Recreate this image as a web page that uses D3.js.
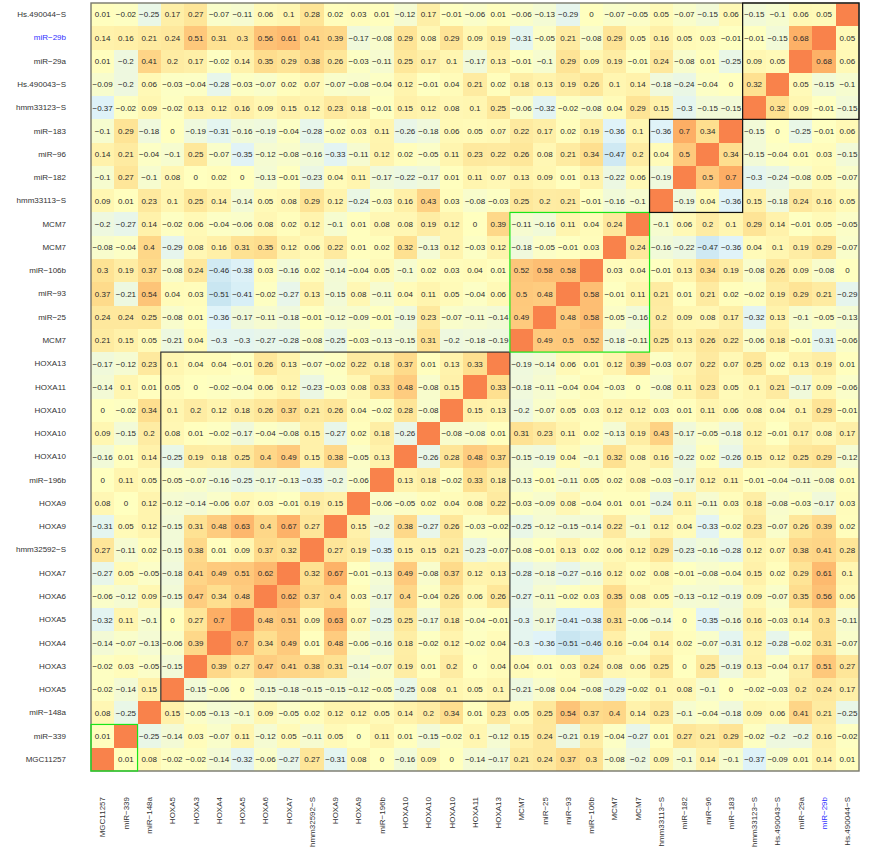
<!DOCTYPE html>
<html>
<head>
<meta charset="utf-8">
<script src="https://cdn.jsdelivr.net/npm/d3@7"></script>
<style>
  body { margin: 0; background: #fff; }
  text { font-family: "Liberation Sans", Arial, sans-serif; }
</style>
</head>
<body>
<div id="vis-heatmap"></div>
<script>
(function(){
        // Row labels, top to bottom. Columns run the same list in reverse.
        const rowLabels = ["Hs.490044-S", "miR-29b", "miR-29a", "Hs.490043-S", "hmm33123-S", "miR-183", "miR-96", "miR-182",
            "hmm33113-S", "MCM7", "MCM7", "miR-106b", "miR-93", "miR-25", "MCM7", "HOXA13", "HOXA11", "HOXA10", "HOXA10",
            "HOXA10", "miR-196b", "HOXA9", "HOXA9", "hmm32592-S", "HOXA7", "HOXA6", "HOXA5", "HOXA4", "HOXA3", "HOXA5",
            "miR-148a", "miR-339", "MGC11257"];

        // The matrix is symmetric, so each row only holds the cells left of the diagonal
        const corrRows = [
            [0.01,-0.02,-0.25,0.17,0.27,-0.07,-0.11,0.06,0.1,0.28,0.02,0.03,0.01,-0.12,0.17,-0.01,-0.06,0.01,-0.06,-0.13,-0.29,0,-0.07,-0.05,0.05,-0.07,-0.15,0.06,-0.15,-0.1,0.06,0.05],
            [0.14,0.16,0.21,0.24,0.51,0.31,0.3,0.56,0.61,0.41,0.39,-0.17,-0.08,0.29,0.08,0.29,0.09,0.19,-0.31,-0.05,0.21,-0.08,0.29,0.05,0.16,0.05,0.03,-0.01,-0.01,-0.15,0.68],
            [0.01,-0.2,0.41,0.2,0.17,-0.02,0.14,0.35,0.29,0.38,0.26,-0.03,-0.11,0.25,0.17,0.1,-0.17,0.13,-0.01,-0.1,0.29,0.09,0.19,-0.01,0.24,-0.08,0.01,-0.25,0.09,0.05],
            [-0.09,-0.2,0.06,-0.03,-0.04,-0.28,-0.03,-0.07,0.02,0.07,-0.07,-0.08,-0.04,0.12,-0.01,0.04,0.21,0.02,0.18,0.13,0.19,0.26,0.1,0.14,-0.18,-0.24,-0.04,0,0.32],
            [-0.37,-0.02,0.09,-0.02,0.13,0.12,0.16,0.09,0.15,0.12,0.23,0.18,-0.01,0.15,0.12,0.08,0.1,0.25,-0.06,-0.32,-0.02,-0.08,0.04,0.29,0.15,-0.3,-0.15,-0.15],
            [-0.1,0.29,-0.18,0,-0.19,-0.31,-0.16,-0.19,-0.04,-0.28,-0.02,0.03,0.11,-0.26,-0.18,0.06,0.05,0.07,0.22,0.17,0.02,0.19,-0.36,0.1,-0.36,0.7,0.34],
            [0.14,0.21,-0.04,-0.1,0.25,-0.07,-0.35,-0.12,-0.08,-0.16,-0.33,-0.11,0.12,0.02,-0.05,0.11,0.23,0.22,0.26,0.08,0.21,0.34,-0.47,0.2,0.04,0.5],
            [-0.1,0.27,-0.1,0.08,0,0.02,0,-0.13,-0.01,-0.23,0.04,0.11,-0.17,-0.22,-0.17,0.01,0.11,0.07,0.13,0.09,0.01,0.13,-0.22,0.06,-0.19],
            [0.09,0.01,0.23,0.1,0.25,0.14,-0.14,0.05,0.08,0.29,0.12,-0.24,-0.03,0.16,0.43,0.03,-0.08,-0.03,0.25,0.2,0.21,-0.01,-0.16,-0.1],
            [-0.2,-0.27,0.14,-0.02,0.06,-0.04,-0.06,0.08,0.02,0.12,-0.1,0.01,0.08,0.08,0.19,0.12,0,0.39,-0.11,-0.16,0.11,0.04,0.24],
            [-0.08,-0.04,0.4,-0.29,0.08,0.16,0.31,0.35,0.12,0.06,0.22,0.01,0.02,0.32,-0.13,0.12,-0.03,0.12,-0.18,-0.05,-0.01,0.03],
            [0.3,0.19,0.37,-0.08,0.24,-0.46,-0.38,0.03,-0.16,0.02,-0.14,-0.04,0.05,-0.1,0.02,0.03,0.04,0.01,0.52,0.58,0.58],
            [0.37,-0.21,0.54,0.04,0.03,-0.51,-0.41,-0.02,-0.27,0.13,-0.15,0.08,-0.11,0.04,0.11,0.05,-0.04,0.06,0.5,0.48],
            [0.24,0.24,0.25,-0.08,0.01,-0.36,-0.17,-0.11,-0.18,-0.01,-0.12,-0.09,-0.01,-0.19,0.23,-0.07,-0.11,-0.14,0.49],
            [0.21,0.15,0.05,-0.21,0.04,-0.3,-0.3,-0.27,-0.28,-0.08,-0.25,-0.03,-0.13,-0.15,0.31,-0.2,-0.18,-0.19],
            [-0.17,-0.12,0.23,0.1,0.04,0.04,-0.01,0.26,0.13,-0.07,-0.02,0.22,0.18,0.37,0.01,0.13,0.33],
            [-0.14,0.1,0.01,0.05,0,-0.02,-0.04,0.06,0.12,-0.23,-0.03,0.08,0.33,0.48,-0.08,0.15],
            [0,-0.02,0.34,0.1,0.2,0.12,0.18,0.26,0.37,0.21,0.26,0.04,-0.02,0.28,-0.08],
            [0.09,-0.15,0.2,0.08,0.01,-0.02,-0.17,-0.04,-0.08,0.15,-0.27,0.02,0.18,-0.26],
            [-0.16,0.01,0.14,-0.25,0.19,0.18,0.25,0.4,0.49,0.15,0.38,-0.05,0.13],
            [0,0.11,0.05,-0.05,-0.07,-0.16,-0.25,-0.17,-0.13,-0.35,-0.2,-0.06],
            [0.08,0,0.12,-0.12,-0.14,-0.06,0.07,0.03,-0.01,0.19,0.15],
            [-0.31,0.05,0.12,-0.15,0.31,0.48,0.63,0.4,0.67,0.27],
            [0.27,-0.11,0.02,-0.15,0.38,0.01,0.09,0.37,0.32],
            [-0.27,0.05,-0.05,-0.18,0.41,0.49,0.51,0.62],
            [-0.06,-0.12,0.09,-0.15,0.47,0.34,0.48],
            [-0.32,0.11,-0.1,0,0.27,0.7],
            [-0.14,-0.07,-0.13,-0.06,0.39],
            [-0.02,0.03,-0.05,-0.15],
            [-0.02,-0.14,0.15],
            [0.08,-0.25],
            [0.01],
            []
        ];

        // Cluster boxes as first/last column index
        const clusterFrom = [0, 3, 18, 24, 28];
        const clusterTo = [1, 17, 23, 27, 32];
        const clusterColor = ["#19e619", "#333", "#19e619", "#111", "#111"];

        // Configuration
        const width = 874;
        const height = 848;
        const gridLeft = 91, gridRight = 859, gridTop = 3, gridBottom = 771;
        const n = rowLabels.length;
        const idx = d3.range(n);
        const colLabels = rowLabels.slice().reverse();
        const prettyMinus = s => String(s).replace("-", "\u2212");

        const svg = d3.select("#vis-heatmap")
            .append("svg")
            .attr("width", width)
            .attr("height", height);

        // Scales
        const x = d3.scaleBand().domain(idx).range([gridLeft, gridRight]);
        const y = d3.scaleBand().domain(idx).range([gridTop, gridBottom]);
        const color = d3.scaleLinear()
            .domain([-0.55, -0.36, 0, 0.33, 0.7, 1])
            .range(["#c3e2ef", "#e0f3f8", "#ffffbf", "#fee090", "#fdae65", "#f9824b"]);

        // Flatten to cells, mirroring across the anti-diagonal
        const cells = [];
        idx.forEach(r => idx.forEach(c => {
            const diag = c === n - 1 - r;
            const value = diag ? 1 : (c < n - 1 - r ? corrRows[r][c] : corrRows[n - 1 - c][n - 1 - r]);
            cells.push({ r, c, diag, value });
        }));

        svg.append("g").selectAll("rect")
            .data(cells)
            .enter().append("rect")
            .attr("x", d => x(d.c))
            .attr("y", d => y(d.r))
            .attr("width", x.bandwidth())
            .attr("height", y.bandwidth())
            .attr("shape-rendering", "crispEdges")
            .style("fill", d => color(d.value));

        svg.append("g").selectAll("text")
            .data(cells.filter(d => !d.diag))
            .enter().append("text")
            .attr("x", d => x(d.c) + x.bandwidth() / 2)
            .attr("y", d => y(d.r) + y.bandwidth() / 2)
            .attr("dy", "0.35em")
            .attr("text-anchor", "middle")
            .style("font-size", "8px")
            .style("fill", "#2b2b2b")
            .text(d => prettyMinus(d.value));

        // Frame around the whole grid
        svg.append("rect")
            .attr("x", gridLeft)
            .attr("y", gridTop)
            .attr("width", gridRight - gridLeft)
            .attr("height", gridBottom - gridTop)
            .style("fill", "none")
            .style("stroke", "#77776b")
            .style("stroke-width", 1.4);

        // Cluster boxes
        clusterFrom.forEach((from, i) => {
            const to = clusterTo[i];
            const x0 = x(from), x1 = x(to) + x.bandwidth();
            const y0 = y(n - 1 - to), y1 = y(n - 1 - from) + y.bandwidth();
            svg.append("rect")
                .attr("x", x0)
                .attr("y", y0)
                .attr("width", x1 - x0)
                .attr("height", y1 - y0)
                .style("fill", "none")
                .style("stroke", clusterColor[i])
                .style("stroke-width", 1.2);
        });

        // Axes
        const yAxis = svg.append("g")
            .attr("transform", "translate(66,0)")
            .call(d3.axisLeft(y).tickSize(0).tickPadding(0).tickFormat(i => prettyMinus(rowLabels[i])));
        const xAxis = svg.append("g")
            .attr("transform", "translate(0,797)")
            .call(d3.axisBottom(x).tickSize(0).tickPadding(0).tickFormat(i => prettyMinus(colLabels[i])));
        yAxis.select(".domain").remove();
        xAxis.select(".domain").remove();

        xAxis.selectAll("text")
            .attr("transform", "rotate(-90)")
            .attr("x", 0)
            .attr("y", 0)
            .attr("dy", "0.35em")
            .attr("text-anchor", "end");

        [yAxis, xAxis].forEach(axis => axis.selectAll("text")
            .style("font-family", '"Liberation Sans", Arial, sans-serif')
            .style("font-size", "8px")
            .style("fill", d => (axis === yAxis ? rowLabels[d] : colLabels[d]) === "miR-29b" ? "#3030ff" : "#333"));
})();
</script>
</body>
</html>
